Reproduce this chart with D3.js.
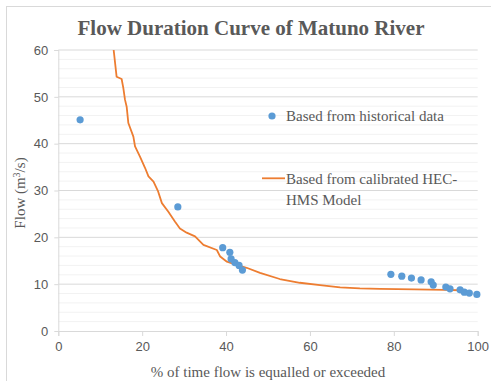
<!DOCTYPE html>
<html><head><meta charset="utf-8">
<script src="https://cdn.jsdelivr.net/npm/d3@7"></script>
<style>body{margin:0;background:#fff}</style>
</head><body>
<script>
const title = "Flow Duration Curve of Matuno River";
const xTicks = [0, 20, 40, 60, 80, 100];
const yTicks = [0, 10, 20, 30, 40, 50, 60];
const histX = [5.2, 28.5, 39.2, 40.9, 41.2, 42.1, 43.1, 43.9, 79.3, 81.9, 84.2, 86.5, 88.9, 89.4, 92.4, 93.4, 95.8, 96.8, 98.0, 99.8];
const histY = [45.1, 26.5, 17.8, 16.8, 15.4, 14.6, 14.0, 13.0, 12.1, 11.7, 11.3, 10.9, 10.5, 9.8, 9.4, 9.0, 8.8, 8.3, 8.1, 7.8];
const modelX = [13.2, 13.9, 15.1, 15.5, 15.9, 16.3, 16.7, 17.9, 18.3, 19.5, 20.7, 21.5, 22.7, 23.8, 24.7, 26.2, 27.8, 29.0, 30.6, 32.6, 34.6, 37.8, 38.6, 40.2, 42.5, 44.9, 48.1, 52.8, 57.6, 62.4, 67.2, 71.9, 76.7, 85, 92, 95.8, 96.6];
const modelY = [60, 54.3, 53.8, 51.9, 49.4, 47.9, 44.4, 41.5, 39.4, 37.2, 34.8, 33.0, 31.9, 29.8, 27.3, 25.5, 23.4, 21.9, 21.0, 20.2, 18.4, 17.3, 15.9, 14.8, 14.1, 13.5, 12.4, 11.1, 10.3, 9.8, 9.3, 9.1, 9.0, 8.9, 8.8, 8.7, 8.1];
const legendLabels = ["Based from historical data", "Based from calibrated HEC-", "HMS Model"];

const W = 491, H = 381;
const svg = d3.select("body").append("svg").attr("width", W).attr("height", H);
svg.append("rect").attr("x", 6.5).attr("y", 6.5).attr("width", W + 10).attr("height", H + 10)
  .attr("fill", "#fff").attr("stroke", "#d9d9d9");

const L = 58.3, R = 477.7, T = 50, B = 331;
const x = d3.scaleLinear().domain([0, 100]).range([L, R]);
const y = d3.scaleLinear().domain([0, 60]).range([B, T]);

// minor gridlines
const minor = d3.range(2, 60, 2).filter(v => v % 10 !== 0);
svg.append("g").selectAll("line").data(minor).join("line")
  .attr("x1", L).attr("x2", R).attr("y1", d => y(d)).attr("y2", d => y(d))
  .attr("stroke", "#f2f2f2").attr("stroke-width", 1);
svg.append("g").selectAll("line").data(yTicks.filter(v => v > 0)).join("line")
  .attr("x1", L).attr("x2", R).attr("y1", d => y(d)).attr("y2", d => y(d))
  .attr("stroke", "#d9d9d9").attr("stroke-width", 1);

// axes
const tickFont = "'Liberation Sans', Arial, sans-serif";
const xa = svg.append("g").attr("transform", `translate(0,${B})`)
  .call(d3.axisBottom(x).tickValues(xTicks).tickSize(5).tickPadding(6));
const ya = svg.append("g").attr("transform", `translate(${L},0)`)
  .call(d3.axisLeft(y).tickValues(yTicks).tickSize(4).tickPadding(6));
[xa, ya].forEach(a => {
  a.select(".domain").attr("stroke", "#d9d9d9");
  a.selectAll(".tick line").attr("stroke", "#d9d9d9");
  a.selectAll("text").attr("fill", "#595959").style("font-family", tickFont).style("font-size", "13px");
});
ya.selectAll(".tick line").filter(d => d === 0).remove();

// clip
svg.append("clipPath").attr("id", "clip").append("rect")
  .attr("x", L).attr("y", T).attr("width", R - L + 2).attr("height", B - T);

const line = d3.line().x(d => x(d[0])).y(d => y(d[1]));
svg.append("path").datum(modelX.map((v, i) => [v, modelY[i]]))
  .attr("clip-path", "url(#clip)")
  .attr("d", line).attr("fill", "none").attr("stroke", "#ed7d31").attr("stroke-width", 1.8)
  .attr("stroke-linejoin", "round");

svg.append("g").selectAll("circle").data(histX.map((v, i) => [v, histY[i]])).join("circle")
  .attr("cx", d => x(d[0])).attr("cy", d => y(d[1])).attr("r", 3.6).attr("fill", "#5b9bd5");

const serif = "'Liberation Serif', 'Times New Roman', serif";
svg.append("text").attr("x", 251).attr("y", 35).attr("text-anchor", "middle")
  .style("font-family", serif).style("font-size", "21px").style("font-weight", "bold")
  .attr("fill", "#595959").text(title);

svg.append("text").attr("x", 268).attr("y", 377).attr("text-anchor", "middle")
  .style("font-family", serif).style("font-size", "15px").attr("fill", "#595959")
  .text("% of time flow is equalled or exceeded");

const yt = svg.append("text").attr("transform", "translate(25,193) rotate(-90)").attr("text-anchor", "middle")
  .style("font-family", serif).style("font-size", "15px").attr("fill", "#595959");
yt.append("tspan").text("Flow (m");
yt.append("tspan").attr("dy", -5).style("font-size", "10px").text("3");
yt.append("tspan").attr("dy", 5).text("/s)");

// legend
const lg = svg.append("g");
lg.append("circle").attr("cx", 272).attr("cy", 116).attr("r", 3.6).attr("fill", "#5b9bd5");
lg.append("line").attr("x1", 262).attr("x2", 285).attr("y1", 178.3).attr("y2", 178.3)
  .attr("stroke", "#ed7d31").attr("stroke-width", 1.8);
const lt = [[116, legendLabels[0]], [178.5, legendLabels[1]], [199.5, legendLabels[2]]];
lg.selectAll("text").data(lt).join("text")
  .attr("x", 286).attr("y", d => d[0] + 5).text(d => d[1])
  .style("font-family", serif).style("font-size", "15px").attr("fill", "#595959");
</script>
</body></html>
